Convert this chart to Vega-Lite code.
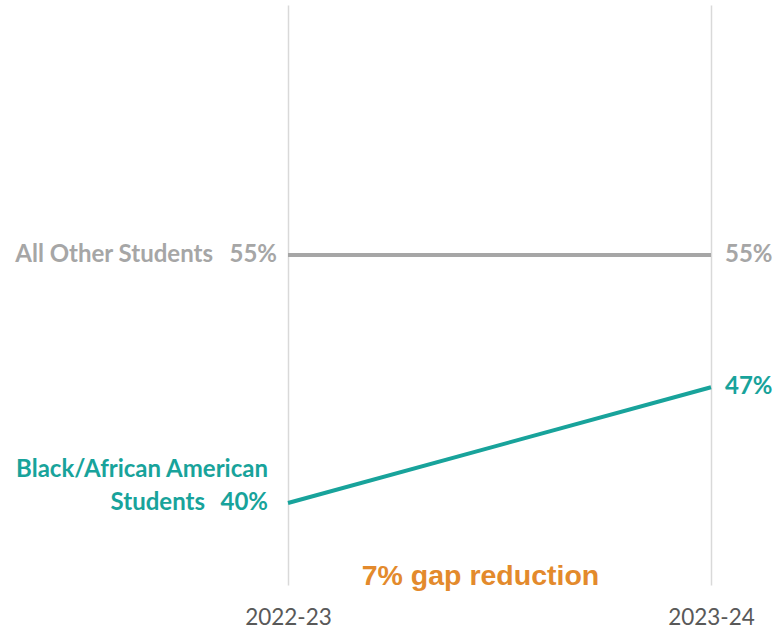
{
  "$schema": "https://vega.github.io/schema/vega-lite/v6.json",
  "width": 423,
  "height": 580,
  "autosize": "none",
  "padding": {"left": 288, "top": 5, "right": 67, "bottom": 45},
  "background": "white",
  "config": {"view": {"stroke": null}},
  "data": {
    "values": [
      {"group": "All Other Students", "year": "2022-23", "value": 55, "label": "55%"},
      {"group": "All Other Students", "year": "2023-24", "value": 55, "label": "55%"},
      {"group": "Black/African American Students", "year": "2022-23", "value": 40, "label": "40%"},
      {"group": "Black/African American Students", "year": "2023-24", "value": 47, "label": "47%"}
    ]
  },
  "encoding": {
    "x": {
      "field": "year", "type": "ordinal",
      "scale": {"type": "point", "padding": 0},
      "axis": {
        "title": null, "domain": false, "ticks": false, "labelAngle": 0,
        "labelPadding": 21, "labelFont": "Lato", "labelFontSize": 22.5,
        "labelColor": "#595959", "grid": true, "gridColor": "#d9d9d9", "gridWidth": 1.5
      }
    },
    "y": {
      "field": "value", "type": "quantitative",
      "scale": {"domain": [35.04, 70.12], "nice": false, "zero": false},
      "axis": null
    },
    "color": {
      "field": "group", "type": "nominal",
      "scale": {"domain": ["All Other Students", "Black/African American Students"], "range": ["#a6a6a6", "#18a39b"]},
      "legend": null
    }
  },
  "layer": [
    {"mark": {"type": "line", "strokeWidth": 4}},
    {
      "transform": [{"filter": "datum.year == '2023-24'"}],
      "mark": {"type": "text", "align": "left", "baseline": "middle", "dx": 14, "font": "Lato", "fontWeight": "bold", "fontSize": 24},
      "encoding": {"text": {"field": "label"}}
    },
    {
      "transform": [{"filter": "datum.year == '2022-23' && datum.group == 'All Other Students'"}],
      "mark": {"type": "text", "align": "right", "baseline": "middle", "dx": -11, "font": "Lato", "fontWeight": "bold", "fontSize": 24},
      "encoding": {"text": {"field": "label"}}
    },
    {
      "transform": [{"filter": "datum.year == '2022-23' && datum.group == 'All Other Students'"}],
      "mark": {"type": "text", "align": "right", "baseline": "middle", "dx": -75, "font": "Lato", "fontWeight": "bold", "fontSize": 24},
      "encoding": {"text": {"field": "group"}}
    },
    {
      "transform": [{"filter": "datum.year == '2022-23' && datum.group != 'All Other Students'"}],
      "mark": {"type": "text", "align": "right", "baseline": "middle", "dx": -20, "font": "Lato", "fontWeight": "bold", "fontSize": 24},
      "encoding": {"text": {"field": "label"}}
    },
    {
      "transform": [{"filter": "datum.year == '2022-23' && datum.group != 'All Other Students'"}],
      "mark": {"type": "text", "align": "right", "baseline": "middle", "dx": -83, "font": "Lato", "fontWeight": "bold", "fontSize": 24, "text": "Students"}
    },
    {
      "transform": [{"filter": "datum.year == '2022-23' && datum.group != 'All Other Students'"}],
      "mark": {"type": "text", "align": "right", "baseline": "middle", "dx": -20, "dy": -33, "font": "Lato", "fontWeight": "bold", "fontSize": 24, "text": "Black/African American"}
    },
    {
      "data": {"values": [{"note": "7% gap reduction", "value": 35.04}]},
      "mark": {"type": "text", "align": "center", "baseline": "alphabetic", "x": {"expr": "width/2"}, "dx": -19, "font": "Liberation Sans", "fontWeight": "bold", "fontSize": 28.5, "color": "#e38a2c"},
      "encoding": {"x": null, "color": null, "text": {"field": "note"}, "y": {"field": "value", "type": "quantitative"}}
    }
  ]
}
